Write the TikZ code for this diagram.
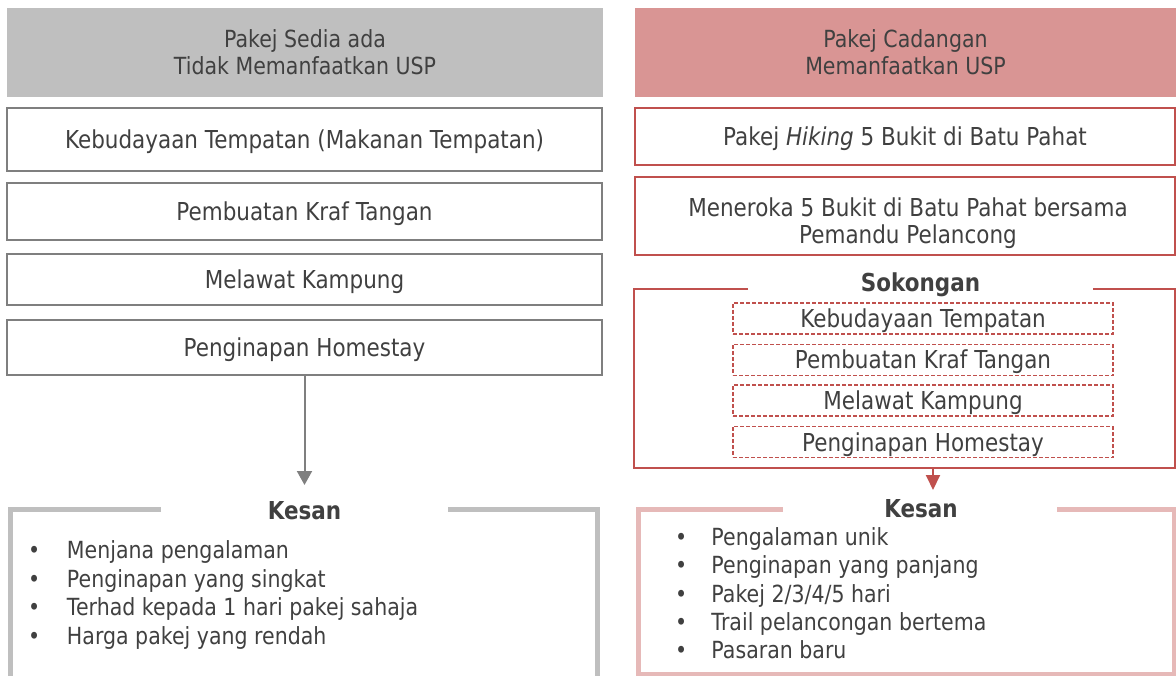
\documentclass[tikz,border=0pt]{standalone}
\usepackage{fontspec}
\setmainfont{DejaVu Sans}[FakeStretch=0.87]
\usetikzlibrary{arrows.meta}
\definecolor{txtc}{HTML}{404040}
\definecolor{hdrgray}{HTML}{BFBFBF}
\definecolor{hdrred}{HTML}{D99594}
\definecolor{boxgray}{HTML}{7F7F7F}
\definecolor{boxred}{HTML}{C0504D}
\definecolor{framegray}{HTML}{BFBFBF}
\definecolor{framepink}{HTML}{E6B9B8}
\tikzset{
  hdr/.style={font=\fontsize{23.6}{27}\selectfont, text=txtc, align=center, inner sep=0pt, outer sep=0pt, minimum height=89pt},
  onel/.style={font=\fontsize{24.7}{27}\selectfont, text=txtc, inner sep=0pt, outer sep=0pt, text height=18pt, text depth=0pt},
  gbox/.style={onel, draw=boxgray, line width=2pt, minimum width=595pt},
  rbox/.style={onel, draw=boxred, line width=2pt, minimum width=540pt},
  twol/.style={font=\fontsize{24.7}{27}\selectfont, text=txtc, inner sep=0pt, outer sep=0pt, align=center},
  dbox/.style={onel, draw=boxred, line width=1.5pt, dash pattern=on 4pt off 2pt, minimum width=380pt, minimum height=31pt},
  ttl/.style={onel, font=\fontsize{24.7}{27}\selectfont\bfseries},
  bline/.style={font=\fontsize{23.6}{27}\selectfont, text=txtc, inner sep=0pt, outer sep=0pt, text height=17.2pt, text depth=0pt, anchor=west},
  garrow/.style={draw=boxgray, line width=2pt, -{Triangle[length=14pt,width=15pt]}},
  rarrow/.style={draw=boxred, line width=2pt, -{Triangle[length=15pt,width=14pt]}},
  gframe/.style={draw=framegray, line width=5pt, line join=miter},
  pframe/.style={draw=framepink, line width=5pt, line join=miter},
  sframe/.style={draw=boxred, line width=2pt, line join=miter},
}
\begin{document}
\begin{tikzpicture}[x=1pt,y=-1pt]
\useasboundingbox (0,0) rectangle (1176,676);
% headers
\node[hdr, fill=hdrgray, minimum width=596pt] (hl) at (305,52.5) {Pakej Sedia ada\\Tidak Memanfaatkan USP};
\node[hdr, fill=hdrred, minimum width=541pt] (hr) at (905.5,52.5) {Pakej Cadangan\\Memanfaatkan USP};
% left boxes
\node[gbox, minimum height=63pt] (lb1) at (304.5,139.5) {Kebudayaan Tempatan (Makanan Tempatan)};
\node[gbox, minimum height=57pt] (lb2) at (304.5,212) {Pembuatan Kraf Tangan};
\node[gbox, minimum height=51pt] (lb3) at (304.5,280) {Melawat Kampung};
\node[gbox, minimum height=55pt] (lb4) at (304.5,348) {Penginapan Homestay};
% right boxes
\node[rbox, minimum height=57pt] (rb1) at (905,136.5) {Pakej \textit{Hiking} 5 Bukit di Batu Pahat};
\node[rbox, minimum height=78pt] (rb2) at (905,216.5) {};
\node[twol] (rb2t) at (908,223.5) {Meneroka 5 Bukit di Batu Pahat bersama\\Pemandu Pelancong};
% Sokongan frame
\node[ttl] (sok) at (920.5,283) {Sokongan};
\coordinate (sg1) at (748,289);
\coordinate (sg2) at (1093,289);
\coordinate (sokb) at (933,468);
\draw[sframe] (sg1) -- (634,289) -- (634,468) -- (1175,468) -- (1175,289) -- (sg2);
\node[dbox] (d1) at (923,318.5) {Kebudayaan Tempatan};
\node[dbox] (d2) at (923,360) {Pembuatan Kraf Tangan};
\node[dbox] (d3) at (923,400.5) {Melawat Kampung};
\node[dbox] (d4) at (923,442) {Penginapan Homestay};
% arrows
\coordinate (gtip) at (304.5,485);
\coordinate (rtip) at (933,490);
\draw[garrow] (lb4.south) -- (gtip);
\draw[rarrow] (sokb) -- (rtip);
% left Kesan
\node[ttl] (lk) at (304.5,510) {Kesan};
\draw[gframe] (161,509.5) -- (10,509.5) -- (10,680);
\draw[gframe] (448,509.5) -- (597.5,509.5) -- (597.5,680);
\node[bline] (l1) at (28,550) {\makebox[39pt][l]{•}Menjana pengalaman};
\node[bline] (l2) at (28,578.5) {\makebox[39pt][l]{•}Penginapan yang singkat};
\node[bline] (l3) at (28,607) {\makebox[39pt][l]{•}Terhad kepada 1 hari pakej sahaja};
\node[bline] (l4) at (28,635.5) {\makebox[39pt][l]{•}Harga pakej yang rendah};
% right Kesan
\node[ttl] (rk) at (921,508) {Kesan};
\draw[pframe] (783,509.5) -- (638.5,509.5) -- (638.5,674) -- (1174,674) -- (1174,509.5) -- (1057,509.5);
\node[bline] (r1) at (675,537) {\makebox[36.5pt][l]{•}Pengalaman unik};
\node[bline] (r2) at (675,565) {\makebox[36.5pt][l]{•}Penginapan yang panjang};
\node[bline] (r3) at (675,593.5) {\makebox[36.5pt][l]{•}Pakej 2/3/4/5 hari};
\node[bline] (r4) at (675,622) {\makebox[36.5pt][l]{•}Trail pelancongan bertema};
\node[bline] (r5) at (675,650) {\makebox[36.5pt][l]{•}Pasaran baru};
\end{tikzpicture}
\end{document}
